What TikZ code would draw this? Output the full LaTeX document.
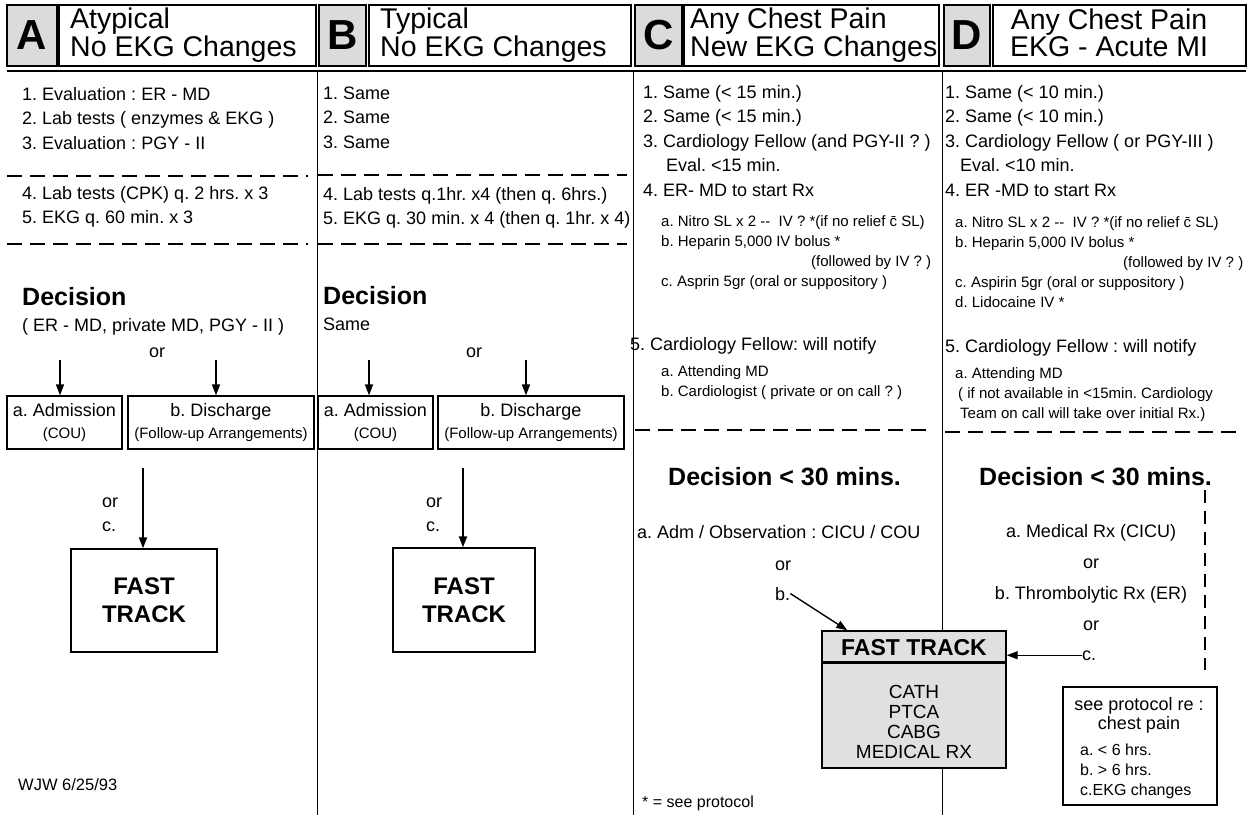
\documentclass[tikz,border=0pt]{standalone}
\usepackage{fontspec}
\setmainfont{Liberation Sans}
\usetikzlibrary{arrows.meta,positioning}

\begin{document}
\frenchspacing
\begin{tikzpicture}[
  x=1pt, y=-1pt,
  >={Triangle[length=11pt,width=8pt]},
  letterbox/.style={draw, line width=1.1pt, fill=black!14, inner sep=0pt,
                    minimum height=61pt, font=\fontsize{42}{42}\selectfont\bfseries},
  titlebox/.style={draw, line width=1.1pt, minimum height=61pt, inner sep=0pt},
  hdr/.style={inner sep=0pt, align=left, font=\fontsize{28.5}{22}\selectfont},
  item/.style={inner sep=0pt, anchor=base west, align=left,
               font=\fontsize{18}{24.5}\selectfont},
  subitem/.style={inner sep=0pt, anchor=base west, align=left,
                  font=\fontsize{15}{20}\selectfont},
  decis/.style={inner sep=0pt, anchor=base west, font=\fontsize{25}{30}\selectfont\bfseries},
  choice/.style={draw, line width=1.2pt, align=center, inner sep=0pt,
                 minimum height=53pt, font=\fontsize{18}{22}\selectfont},
  fast/.style={draw, line width=1.4pt, align=center, inner sep=0pt,
               font=\fontsize{24}{28}\selectfont\bfseries},
  arr/.style={->, line width=1.4pt},
  sep/.style={line width=1.6pt, dash pattern=on 15pt off 8pt},
  rule/.style={line width=0.9pt}
]
\useasboundingbox (0,0) rectangle (1249,815);
% note: multi-line nodes sit on the baseline of their last line

% ---- headers ----
\node[letterbox, minimum width=50pt] (lA) at (32,35.5) {A};
\node[titlebox, minimum width=257pt] (tA) at (187.5,35.5) {};
\node[hdr, anchor=base west] (hA) at (70,56) {Atypical\\No EKG Changes};

\node[letterbox, minimum width=47pt] (lB) at (342.5,35.5) {B};
\node[titlebox, minimum width=262pt] (tB) at (500,35.5) {};
\node[hdr, anchor=base west] (hB) at (380,56) {Typical\\No EKG Changes};

\node[letterbox, minimum width=47pt] (lC) at (658.5,35.5) {C};
\node[titlebox, minimum width=255pt] (tC) at (811.5,35.5) {};
\node[hdr, anchor=base west] (hC) at (690,56) {Any Chest Pain\\New EKG Changes};

\node[letterbox, minimum width=46pt] (lD) at (967,35.5) {D};
\node[titlebox, minimum width=253pt] (tD) at (1119.5,35.5) {};
\node[hdr, anchor=base, align=center] (hD) at (1109,56) {Any Chest Pain\\EKG - Acute MI};

\draw[line width=2.2pt] (7,71) -- (1246,71);

% ---- column rules ----
\draw[rule] (317,72) -- (317,815);
\draw[rule] (633,72) -- (633,815);
\draw[rule] (942,72) -- (942,631);
\draw[rule] (942,768) -- (942,815);

% ---- column A ----
\node[item] (a13) at (22,149) {1. Evaluation : ER - MD\\2. Lab tests ( enzymes \& EKG )\\3. Evaluation : PGY - II};
\draw[sep] (7,176) -- (308,176);
\node[item] (a45) at (22,223.5) {4. Lab tests (CPK) q. 2 hrs. x 3\\5. EKG q. 60 min. x 3};
\draw[sep] (7,244) -- (308,244);
\node[decis] (decA) at (22,305) {Decision};
\node[item] (whoA) at (22,331) {( ER - MD, private MD, PGY - II )};
\node[item] (orA) at (149,357) {or};

\node[choice, minimum width=115pt] (admA) at (64.5,422.5) {a. Admission\\{\fontsize{15}{18}\selectfont (COU)}};
\node[choice, minimum width=186pt] (disA) at (221,422.5) {b. Discharge\\{\fontsize{15}{18}\selectfont (Follow-up Arrangements)}};
\coordinate (pA1) at (60,360);
\coordinate (pA2) at (216,360);
\draw[arr] (pA1) -- (pA1 |- admA.north);
\draw[arr] (pA2) -- (pA2 |- disA.north);

\node[item] (orcA) at (102,531.5) {or\\c.};
\node[fast, minimum width=146pt, minimum height=103pt] (ftA) at (144,600.5) {FAST\\TRACK};
\coordinate (pA3) at (143,468);
\draw[arr, line width=1.8pt] (pA3) -- (pA3 |- ftA.north);

\node[subitem, font=\fontsize{16.5}{20}\selectfont] (sig) at (18,790) {WJW 6/25/93};

% ---- column B ----
\node[item] (b13) at (323,148) {1. Same\\2. Same\\3. Same};
\draw[sep] (318,175) -- (627,175);
\node[item] (b45) at (323,224.5) {4. Lab tests q.1hr. x4 (then q. 6hrs.)\\5. EKG q. 30 min. x 4 (then q. 1hr. x 4)};
\draw[sep] (318,244) -- (627,244);
\node[decis] (decB) at (323,304) {Decision};
\node[item] (whoB) at (323,330) {Same};
\node[item] (orB) at (466,357) {or};

\node[choice, minimum width=115pt] (admB) at (375.5,422.5) {a. Admission\\{\fontsize{15}{18}\selectfont (COU)}};
\node[choice, minimum width=186pt] (disB) at (531,422.5) {b. Discharge\\{\fontsize{15}{18}\selectfont (Follow-up Arrangements)}};
\coordinate (pB1) at (369,360);
\coordinate (pB2) at (526,360);
\draw[arr] (pB1) -- (pB1 |- admB.north);
\draw[arr] (pB2) -- (pB2 |- disB.north);

\node[item] (orcB) at (426,531.5) {or\\c.};
\node[fast, minimum width=142pt, minimum height=104pt] (ftB) at (464,600) {FAST\\TRACK};
\coordinate (pB3) at (463,468);
\draw[arr, line width=1.8pt] (pB3) -- (pB3 |- ftB.north);

% ---- column C ----
\node[item] (c14) at (643,196) {1. Same (< 15 min.)\\2. Same (< 15 min.)\\3. Cardiology Fellow (and PGY-II ? )\\\hspace*{23pt}Eval. <15 min.\\4. ER- MD to start Rx};
\node[subitem] (c4s) at (661,286) {a. Nitro SL x 2 -{}-\ \ IV ? *(if no relief \={c} SL)\\b. Heparin 5,000 IV bolus *\\\hspace*{150pt}(followed by IV ? )\\c. Asprin 5gr (oral or suppository )};
\node[item] (c5) at (630,350) {5. Cardiology Fellow: will notify};
\node[subitem] (c5s) at (661,396) {a. Attending MD\\b. Cardiologist ( private or on call ? )};
\draw[sep] (635,430) -- (932,430);
\node[decis] (decC) at (668,485) {Decision < 30 mins.};
\node[item] (admC) at (637,538) {a. Adm / Observation : CICU / COU};
\node[item] (orC) at (775,570) {or};
\node[item] (bC) at (775,600) {b.};

\node[draw, line width=1.4pt, fill=black!12, minimum width=184pt, minimum height=137pt,
      inner sep=0pt] (ftC) at (914,699.5) {};
\draw[line width=2.4pt] ([yshift=-32pt]ftC.north west) -- ([yshift=-32pt]ftC.north east);
\node[inner sep=0pt, anchor=base, font=\fontsize{23}{26}\selectfont\bfseries] (ftCt) at (914,655) {FAST TRACK};
\node[inner sep=0pt, anchor=base, align=center, font=\fontsize{19}{20}\selectfont] (ftCl) at (914,758)
  {CATH\\PTCA\\CABG\\MEDICAL RX};
\draw[arr] (bC.east) -- ([xshift=26pt]ftC.north west);

\node[subitem, font=\fontsize{16}{20}\selectfont] (star) at (642,807) {* = see protocol};

% ---- column D ----
\node[item] (d14) at (945,196) {1. Same (< 10 min.)\\2. Same (< 10 min.)\\3. Cardiology Fellow ( or PGY-III )\\\hspace*{15pt}Eval. <10 min.\\4. ER -MD to start Rx};
\node[subitem] (d4s) at (955,307) {a. Nitro SL x 2 -{}-\ \ IV ? *(if no relief \={c} SL)\\b. Heparin 5,000 IV bolus *\\\hspace*{168pt}(followed by IV ? )\\c. Aspirin 5gr (oral or suppository )\\d. Lidocaine IV *};
\node[item] (d5) at (945,352) {5. Cardiology Fellow : will notify};
\node[subitem] (d5s) at (955,418) {a. Attending MD\\\hspace*{3pt}( if not available in <15min. Cardiology\\\hspace*{5pt}Team on call will take over initial Rx.)};
\draw[sep] (945,432) -- (1238,432);
\node[decis] (decD) at (979,485) {Decision < 30 mins.};
\node[inner sep=0pt, anchor=base, align=center, font=\fontsize{18}{30.7}\selectfont] (optD) at (1091,630)
  {a. Medical Rx (CICU)\\or\\b. Thrombolytic Rx (ER)\\or};
\node[item] (cD) at (1082,660) {c.};
\draw[arr] (cD.west) -- (ftC.east |- cD.west);

\coordinate (vD1) at (1205,490);
\coordinate (vD2) at (1205,670);
\draw[line width=1.3pt, dash pattern=on 13pt off 8pt] (vD1) -- (vD2);

\node[draw, line width=1.2pt, minimum width=154pt, minimum height=118pt, inner sep=0pt] (prot) at (1140,746) {};
\node[inner sep=0pt, anchor=base, align=center, font=\fontsize{18}{19}\selectfont] (protT) at (1139,729)
  {see protocol re :\\chest pain};
\node[subitem, font=\fontsize{16}{20}\selectfont] (protL) at (1080,795)
  {a. < 6 hrs.\\b. > 6 hrs.\\c.EKG changes};
\end{tikzpicture}
\end{document}
